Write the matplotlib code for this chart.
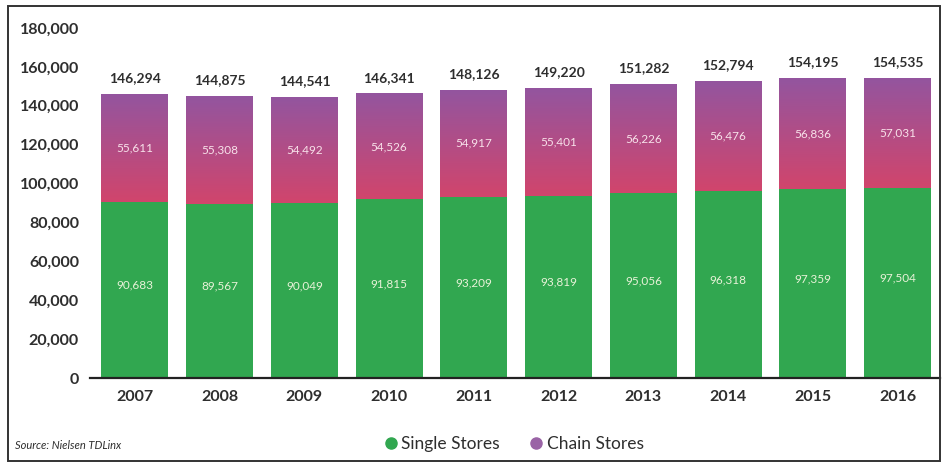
import matplotlib
matplotlib.use("Agg")
import matplotlib.pyplot as plt
import numpy as np
from matplotlib.patches import Rectangle
from matplotlib.lines import Line2D
from matplotlib.colors import LinearSegmentedColormap

years = ["2007", "2008", "2009", "2010", "2011", "2012", "2013", "2014", "2015", "2016"]
single_stores = [90683, 89567, 90049, 91815, 93209, 93819, 95056, 96318, 97359, 97504]
chain_stores = [55611, 55308, 54492, 54526, 54917, 55401, 56226, 56476, 56836, 57031]
y_ticks = [0, 20000, 40000, 60000, 80000, 100000, 120000, 140000, 160000, 180000]

GREEN = "#31a750"
PURPLE_TOP = "#93559f"
PINK_BOTTOM = "#d1456c"
TEXT = "#2e2e2e"
FONT = "Lato"

W, H = 943, 473
fig = plt.figure(figsize=(W / 100, H / 100), dpi=100)
fig.patch.set_facecolor("white")

ax = fig.add_axes([90 / W, (H - 378) / H, (940 - 90) / W, (378 - 28) / H])

x = np.arange(len(years))
totals = [s + c for s, c in zip(single_stores, chain_stores)]
width = 0.79

ax.bar(x, single_stores, width=width, color=GREEN, zorder=2)
chain_bars = ax.bar(x, chain_stores, width=width, bottom=single_stores,
                    color=PINK_BOTTOM, zorder=2)

# vertical purple-to-pink gradient inside each chain bar
cmap = LinearSegmentedColormap.from_list("chain", [PINK_BOTTOM, PURPLE_TOP])
grad = np.linspace(0, 1, 256).reshape(-1, 1)
for bar in chain_bars:
    x0, y0 = bar.get_x(), bar.get_y()
    im = ax.imshow(grad, cmap=cmap, origin="lower", aspect="auto",
                   extent=(x0, x0 + bar.get_width(), y0, y0 + bar.get_height()),
                   zorder=3)
    im.set_clip_path(bar)

for i in range(len(years)):
    ax.text(x[i], single_stores[i] / 2 + 2500, f"{single_stores[i]:,}",
            ha="center", va="center", color="#e8f2d8", fontsize=8.5,
            family=FONT, zorder=4)
    ax.text(x[i], single_stores[i] + chain_stores[i] / 2, f"{chain_stores[i]:,}",
            ha="center", va="center", color="#f8e2ea", fontsize=8.5,
            family=FONT, zorder=4)
    ax.annotate(f"{totals[i]:,}", (x[i], totals[i]), xytext=(0, 7),
                textcoords="offset points", ha="center", va="bottom",
                color=TEXT, fontsize=10, fontweight="bold", family=FONT)

ax.set_xlim(-0.53, 9.5)
ax.set_ylim(0, 180000)
ax.set_xticks(x)
ax.set_xticklabels(years)
ax.set_yticks(y_ticks)
ax.set_yticklabels([f"{v:,}" for v in y_ticks])
for lab in ax.get_xticklabels():
    lab.set_fontfamily(FONT)
    lab.set_fontweight("bold")
    lab.set_fontsize(11.5)
    lab.set_color(TEXT)
for lab in ax.get_yticklabels():
    lab.set_fontfamily(FONT)
    lab.set_fontweight("bold")
    lab.set_fontsize(11.5)
    lab.set_color(TEXT)
ax.tick_params(axis="both", length=0)
ax.tick_params(axis="y", pad=8)
ax.tick_params(axis="x", pad=8.5)
for side in ["top", "right", "left"]:
    ax.spines[side].set_visible(False)
ax.spines["bottom"].set_color("#222222")
ax.spines["bottom"].set_linewidth(1.6)
ax.spines["bottom"].set_zorder(5)
ax.set_facecolor("white")

handles = [
    Line2D([], [], marker="o", linestyle="none", markersize=8,
           markerfacecolor=GREEN, markeredgecolor=GREEN),
    Line2D([], [], marker="o", linestyle="none", markersize=8,
           markerfacecolor="#9a63a6", markeredgecolor="#9a63a6"),
]
fig.legend(handles, ["Single Stores", "Chain Stores"], loc="center",
           bbox_to_anchor=(513 / W, 1 - 444 / H), ncol=2, frameon=False,
           handletextpad=0.1, columnspacing=1.6, handlelength=1.0,
           prop={"family": FONT, "size": 12.5}, labelcolor=TEXT)

fig.text(15 / W, 1 - 445 / H, "Source: Nielsen TDLinx", ha="left", va="center",
         fontsize=8, style="italic", family=FONT, color=TEXT)

# outer frame
fig.add_artist(Rectangle((8 / W, 1 - 461 / H), (940 - 8) / W, (461 - 6) / H,
                         transform=fig.transFigure, fill=False,
                         edgecolor="#333333", linewidth=1.4))

fig.savefig("out.png", dpi=100, facecolor="white")
